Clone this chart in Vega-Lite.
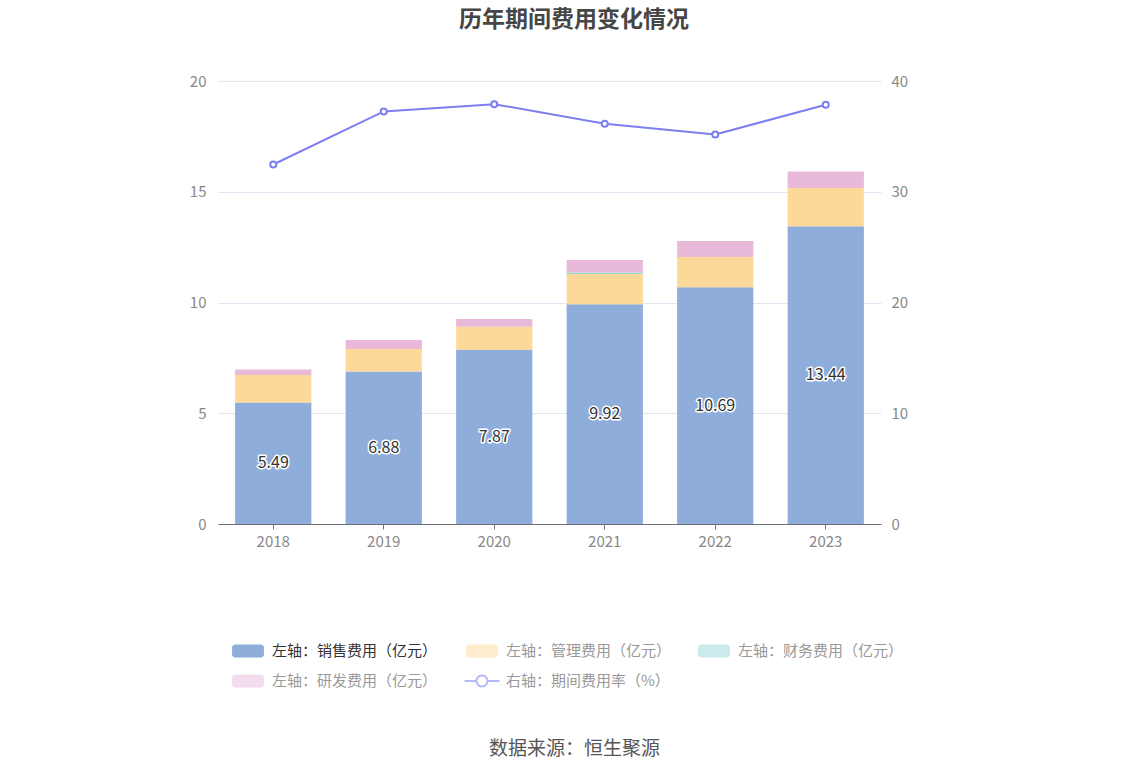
{
  "$schema": "https://vega.github.io/schema/vega-lite/v6.json",
  "width": 663,
  "height": 443,
  "autosize": "none",
  "padding": {"left": 218, "top": 81, "right": 267, "bottom": 252},
  "background": "white",
  "config": {
    "font": "Noto Sans CJK SC",
    "view": {"stroke": null},
    "axis": {"labelFont": "Noto Sans CJK SC", "titleFont": "Noto Sans CJK SC"}
  },
  "title": {
    "text": "历年期间费用变化情况",
    "fontSize": 23,
    "fontWeight": "bold",
    "color": "#464646",
    "anchor": "middle",
    "frame": "group",
    "dx": 24.5,
    "offset": 42
  },
  "datasets": {
    "bars": [
      {"year": "2018", "type": "左轴：销售费用（亿元）", "value": 5.49},
      {"year": "2018", "type": "左轴：管理费用（亿元）", "value": 1.24},
      {"year": "2018", "type": "左轴：财务费用（亿元）", "value": 0.0},
      {"year": "2018", "type": "左轴：研发费用（亿元）", "value": 0.25},
      {"year": "2019", "type": "左轴：销售费用（亿元）", "value": 6.88},
      {"year": "2019", "type": "左轴：管理费用（亿元）", "value": 1.02},
      {"year": "2019", "type": "左轴：财务费用（亿元）", "value": 0.0},
      {"year": "2019", "type": "左轴：研发费用（亿元）", "value": 0.41},
      {"year": "2020", "type": "左轴：销售费用（亿元）", "value": 7.87},
      {"year": "2020", "type": "左轴：管理费用（亿元）", "value": 1.04},
      {"year": "2020", "type": "左轴：财务费用（亿元）", "value": 0.0},
      {"year": "2020", "type": "左轴：研发费用（亿元）", "value": 0.35},
      {"year": "2021", "type": "左轴：销售费用（亿元）", "value": 9.92},
      {"year": "2021", "type": "左轴：管理费用（亿元）", "value": 1.37},
      {"year": "2021", "type": "左轴：财务费用（亿元）", "value": 0.07},
      {"year": "2021", "type": "左轴：研发费用（亿元）", "value": 0.56},
      {"year": "2022", "type": "左轴：销售费用（亿元）", "value": 10.69},
      {"year": "2022", "type": "左轴：管理费用（亿元）", "value": 1.36},
      {"year": "2022", "type": "左轴：财务费用（亿元）", "value": 0.0},
      {"year": "2022", "type": "左轴：研发费用（亿元）", "value": 0.73},
      {"year": "2023", "type": "左轴：销售费用（亿元）", "value": 13.44},
      {"year": "2023", "type": "左轴：管理费用（亿元）", "value": 1.73},
      {"year": "2023", "type": "左轴：财务费用（亿元）", "value": 0.0},
      {"year": "2023", "type": "左轴：研发费用（亿元）", "value": 0.74}
    ],
    "rate": [
      {"year": "2018", "rate": 32.46},
      {"year": "2019", "rate": 37.25},
      {"year": "2020", "rate": 37.91},
      {"year": "2021", "rate": 36.14},
      {"year": "2022", "rate": 35.17},
      {"year": "2023", "rate": 37.86}
    ]
  },
  "encoding": {
    "x": {
      "field": "year",
      "type": "nominal",
      "sort": null,
      "scale": {"paddingInner": 0.31, "paddingOuter": 0.155},
      "axis": {
        "title": "数据来源：恒生聚源",
        "titleFontSize": 19,
        "titleFontWeight": "normal",
        "titleColor": "#555555",
        "titleX": 356,
        "titleY": 224,
        "titleAlign": "center",
        "titleBaseline": "middle",
        "labelAngle": 0,
        "labelFontSize": 15,
        "labelColor": "#888888",
        "labelPadding": 5,
        "domainColor": "#6e7079",
        "tickColor": "#6e7079",
        "tickSize": 5,
        "grid": false
      }
    }
  },
  "layer": [
    {
      "data": {"name": "bars"},
      "transform": [
        {"calculate": "indexof(['左轴：销售费用（亿元）','左轴：管理费用（亿元）','左轴：财务费用（亿元）','左轴：研发费用（亿元）'], datum.type)", "as": "ord"}
      ],
      "mark": {"type": "bar"},
      "encoding": {
        "y": {
          "field": "value",
          "type": "quantitative",
          "stack": "zero",
          "scale": {"domain": [0, 20]},
          "axis": {
            "orient": "left",
            "title": null,
            "values": [0, 5, 10, 15, 20],
            "domain": false,
            "ticks": false,
            "tickSize": 0,
            "labelPadding": 12,
            "labelFontSize": 15,
            "labelColor": "#888888",
            "gridColor": "#e0e6f1",
            "gridWidth": 1
          }
        },
        "order": {"field": "ord"},
        "color": {
          "field": "type",
          "type": "nominal",
          "scale": {
            "domain": ["左轴：销售费用（亿元）", "左轴：管理费用（亿元）", "左轴：财务费用（亿元）", "左轴：研发费用（亿元）", "右轴：期间费用率（%）"],
            "range": ["#8eaddb", "#fdd999", "#95d5d8", "#e8b9d8", "#7b7ff0"]
          },
          "legend": {
            "title": null,
            "orient": "none",
            "legendX": 18,
            "legendY": 558,
            "direction": "horizontal",
            "columns": 3,
            "columnPadding": 26,
            "rowPadding": 10,
            "padding": 0,
            "labelFont": "Noto Sans CJK SC",
            "labelFontSize": 15,
            "labelOffset": 12,
            "labelLimit": 300,
            "symbolSize": 576,
            "encode": {
              "symbols": {
                "update": {
                  "shape": {"signal": "datum.value === '右轴：期间费用率（%）' ? 'M-1.458,-0.0833H-0.535V0.0833H-1.458Z M0.535,-0.0833H1.458V0.0833H0.535Z M0.5417,0A0.5417,0.5417 0 1 0 -0.5417,0A0.5417,0.5417 0 1 0 0.5417,0Z M0.375,0A0.375,0.375 0 1 1 -0.375,0A0.375,0.375 0 1 1 0.375,0Z' : 'M-1.08,-0.54H1.08A0.25,0.25 0 0 1 1.33,-0.29V0.29A0.25,0.25 0 0 1 1.08,0.54H-1.08A0.25,0.25 0 0 1 -1.33,0.29V-0.29A0.25,0.25 0 0 1 -1.08,-0.54Z'"},
                  "size": {"value": 576},
                  "strokeWidth": {"value": 0},
                  "opacity": {"signal": "datum.value === '左轴：销售费用（亿元）' ? 1 : datum.value === '右轴：期间费用率（%）' ? 0.55 : 0.5"}
                }
              },
              "labels": {
                "update": {
                  "fill": {"signal": "datum.value === '左轴：销售费用（亿元）' ? '#333333' : '#999999'"}
                }
              }
            }
          }
        }
      }
    },
    {
      "data": {"name": "bars"},
      "transform": [{"filter": "datum.type === '左轴：销售费用（亿元）'"}],
      "mark": {"type": "text", "fontSize": 16, "stroke": "white", "strokeWidth": 3, "strokeJoin": "round", "fill": "white"},
      "encoding": {
        "y": {"field": "value", "type": "quantitative", "scale": {"domain": [0, 40]}, "axis": null},
        "text": {"field": "value", "type": "quantitative", "format": ".2f"}
      }
    },
    {
      "data": {"name": "bars"},
      "transform": [{"filter": "datum.type === '左轴：销售费用（亿元）'"}],
      "mark": {"type": "text", "fontSize": 16, "fill": "#333333"},
      "encoding": {
        "y": {"field": "value", "type": "quantitative", "scale": {"domain": [0, 40]}, "axis": null},
        "text": {"field": "value", "type": "quantitative", "format": ".2f"}
      }
    },
    {
      "data": {"name": "rate"},
      "mark": {
        "type": "line",
        "strokeWidth": 2,
        "point": {"filled": false, "fill": "white", "size": 36, "strokeWidth": 2}
      },
      "encoding": {
        "y": {
          "field": "rate",
          "type": "quantitative",
          "scale": {"domain": [0, 40]},
          "axis": {
            "orient": "right",
            "title": null,
            "values": [0, 10, 20, 30, 40],
            "grid": false,
            "domain": false,
            "ticks": false,
            "tickSize": 0,
            "labelPadding": 10,
            "labelFontSize": 15,
            "labelColor": "#888888"
          }
        },
        "color": {"datum": "右轴：期间费用率（%）"}
      }
    }
  ],
  "resolve": {"scale": {"y": "independent"}}
}
